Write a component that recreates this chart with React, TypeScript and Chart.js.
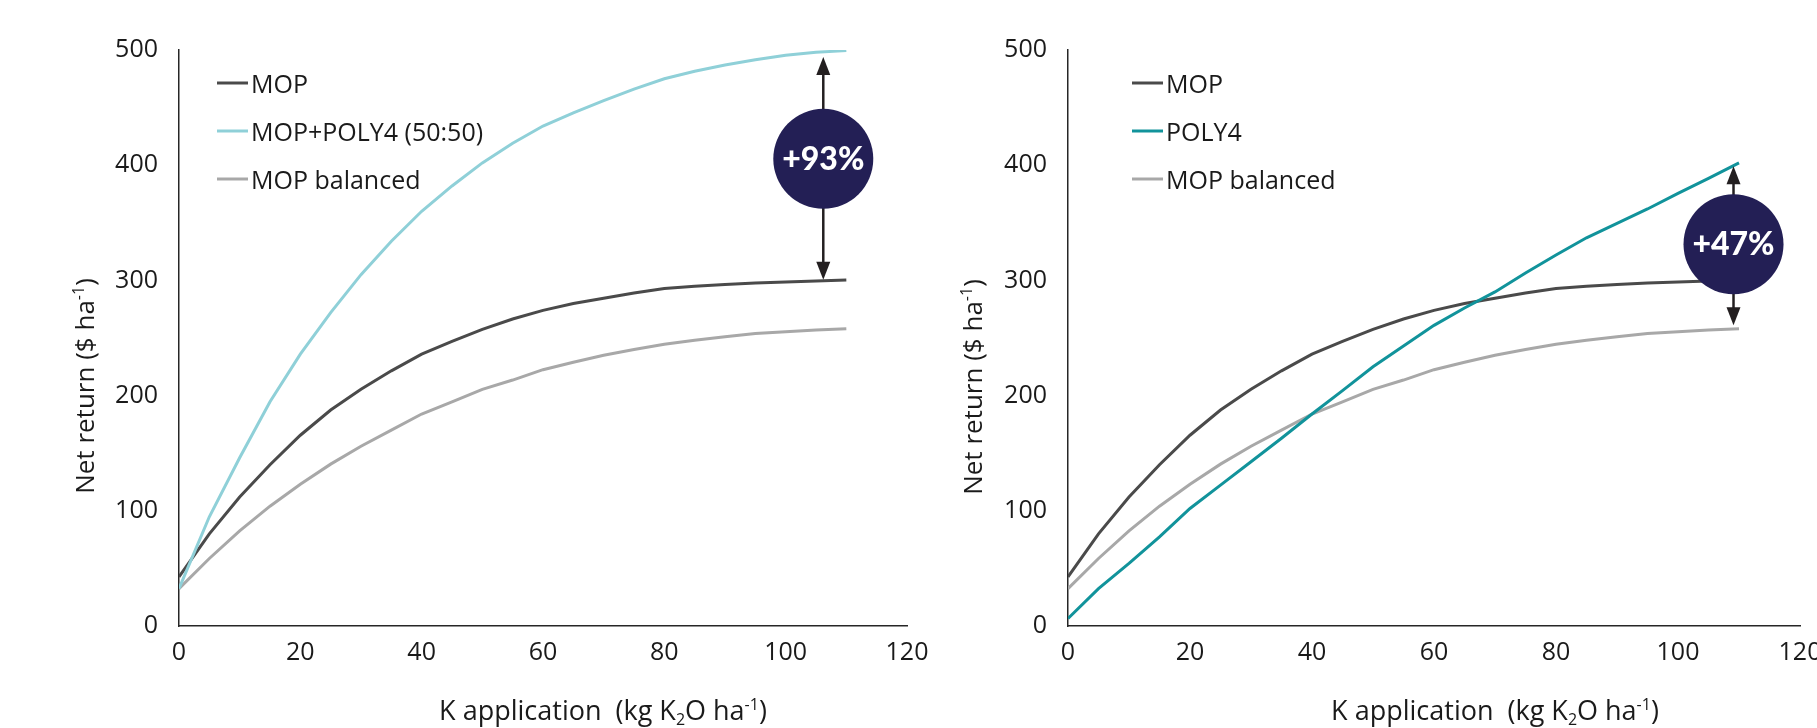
import React, { useEffect, useRef } from "react";
import { Chart, registerables } from "chart.js";

Chart.register(...registerables);

// ---------------- data ----------------
const K_RATES = [0, 5, 10, 15, 20, 25, 30, 35, 40, 45, 50, 55, 60, 65, 70, 75, 80, 85, 90, 95, 100, 105, 110];
const MOP = [42.6, 80, 112, 140, 165.6, 187.5, 205.5, 221.5, 236, 247, 257.5, 266.5, 274, 280, 284.5, 289, 293, 295, 296.5, 297.7, 298.7, 299.5, 300.4];
const MOP_POLY4 = [32.5, 94.8, 146, 194.7, 236, 272, 305, 334, 360, 382, 402, 419, 434, 445.5, 456, 466, 475, 481.5, 487, 491.5, 495.5, 498, 499.5];
const MOP_BALANCED = [32.5, 58.6, 82.5, 104, 123, 140.5, 156, 170, 184, 194.5, 205.4, 213.5, 222.5, 229, 235, 240, 244.5, 248, 251, 254, 255.5, 257, 258];
const POLY4 = [6.5, 32.5, 54.3, 77.4, 102, 122.3, 142.6, 163, 184, 204.3, 225, 243, 261, 276, 290, 306.5, 322, 337, 349.5, 362, 375.5, 388.5, 402];

const X_MIN = 0;
const X_MAX = 120;
const X_STEP = 20;
const Y_MIN = 0;
const Y_MAX = 500;
const Y_STEP = 100;

const LEFT_LABELS = ["MOP", "MOP+POLY4 (50:50)", "MOP balanced"];
const RIGHT_LABELS = ["MOP", "POLY4", "MOP balanced"];

// badge: label, x position (kg/ha), arrow top, arrow bottom, circle centre (value)
const LEFT_BADGE = { label: "+93%", x: 106.2, top: 494, bottom: 300.5, center: 405.5 };
const RIGHT_BADGE = { label: "+47%", x: 109.1, top: 399, bottom: 261, center: 331.4 };

// ---------------- styles ----------------
const W = 1817;
const H = 728;
const FONT = "'Open Sans', sans-serif";
const TEXT = "#1a1a1a";
const AXIS = "#262626";
const C_MOP = "#4a4a4a";
const C_BLEND = "#8fd0d8";
const C_BAL = "#a8a8a8";
const C_POLY = "#11939b";
const C_BADGE = "#231f55";
const C_ARROW = "#231f20";

type Part = { t: string; k?: "sup" | "sub" };

function drawParts(ctx: CanvasRenderingContext2D, parts: Part[], size: number) {
  ctx.textAlign = "left";
  ctx.textBaseline = "alphabetic";
  ctx.fillStyle = TEXT;
  const fonts = parts.map((p) => `${p.k ? Math.round(size * 0.6) : size}px ${FONT}`);
  const widths = parts.map((p, i) => {
    ctx.font = fonts[i];
    return ctx.measureText(p.t).width;
  });
  const total = widths.reduce((a, b) => a + b, 0);
  let x = -total / 2;
  parts.forEach((p, i) => {
    ctx.font = fonts[i];
    const dy = p.k === "sup" ? -size * 0.38 : p.k === "sub" ? size * 0.17 : 0;
    ctx.fillText(p.t, x, dy);
    x += widths[i];
  });
}

const Y_TITLE: Part[] = [{ t: "Net return ($ ha" }, { t: "-1", k: "sup" }, { t: ")" }];
const X_TITLE: Part[] = [
  { t: "K application  (kg K" },
  { t: "2", k: "sub" },
  { t: "O ha" },
  { t: "-1", k: "sup" },
  { t: ")" },
];

type Side = {
  labels: string[];
  colors: string[];
  series: number[][];
  order: number[];
  badge: typeof LEFT_BADGE;
  padLeft: number;
  axisWidth: number;
  padRight: number;
  yTitleX: number;
  yTitleY: number;
  xTitleX: number;
  legendLineX: number;
  legendTextX: number;
};

const LEFT_SIDE: Side = {
  labels: LEFT_LABELS,
  colors: [C_MOP, C_BLEND, C_BAL],
  series: [MOP, MOP_POLY4, MOP_BALANCED],
  order: [2, 1, 3],
  badge: LEFT_BADGE,
  padLeft: 0,
  axisWidth: 179,
  padRight: W - 907,
  yTitleX: 94,
  yTitleY: 386,
  xTitleX: 603,
  legendLineX: 217,
  legendTextX: 251,
};

const RIGHT_SIDE: Side = {
  labels: RIGHT_LABELS,
  colors: [C_MOP, C_POLY, C_BAL],
  series: [MOP, POLY4, MOP_BALANCED],
  order: [2, 1, 3],
  badge: RIGHT_BADGE,
  padLeft: 968,
  axisWidth: 100,
  padRight: W - 1800,
  yTitleX: 982,
  yTitleY: 387,
  xTitleX: 1495,
  legendLineX: 1132,
  legendTextX: 1166,
};

function makeOverlay(side: Side) {
  return {
    id: "overlay",
    afterDatasetsDraw(chart: any) {
      const ctx: CanvasRenderingContext2D = chart.ctx;
      const xs = chart.scales.x;
      const ys = chart.scales.y;
      const b = side.badge;
      const px = xs.getPixelForValue(b.x);
      const top = ys.getPixelForValue(b.top);
      const bot = ys.getPixelForValue(b.bottom);
      const cy = ys.getPixelForValue(b.center);
      const hl = 18;
      const hw = 7;
      ctx.save();
      ctx.strokeStyle = C_ARROW;
      ctx.fillStyle = C_ARROW;
      ctx.lineWidth = 2.5;
      ctx.beginPath();
      ctx.moveTo(px, top + hl - 2);
      ctx.lineTo(px, bot - hl + 2);
      ctx.stroke();
      ctx.beginPath();
      ctx.moveTo(px, top);
      ctx.lineTo(px - hw, top + hl);
      ctx.lineTo(px + hw, top + hl);
      ctx.closePath();
      ctx.fill();
      ctx.beginPath();
      ctx.moveTo(px, bot);
      ctx.lineTo(px - hw, bot - hl);
      ctx.lineTo(px + hw, bot - hl);
      ctx.closePath();
      ctx.fill();
      ctx.fillStyle = C_BADGE;
      ctx.beginPath();
      ctx.arc(px, cy, 50, 0, Math.PI * 2);
      ctx.fill();
      ctx.fillStyle = "#ffffff";
      ctx.font = `900 32px Lato, ${FONT}`;
      ctx.textAlign = "center";
      ctx.textBaseline = "alphabetic";
      ctx.fillText(b.label, px, cy + 11);
      ctx.restore();
    },
    afterDraw(chart: any) {
      const ctx: CanvasRenderingContext2D = chart.ctx;
      ctx.save();
      // legend
      const baselines = [93, 141, 189];
      side.labels.forEach((lab, i) => {
        const yb = baselines[i];
        ctx.strokeStyle = side.colors[i];
        ctx.lineWidth = 3;
        ctx.beginPath();
        ctx.moveTo(side.legendLineX, yb - 10);
        ctx.lineTo(side.legendLineX + 31, yb - 10);
        ctx.stroke();
        ctx.fillStyle = TEXT;
        ctx.font = `25px ${FONT}`;
        ctx.textAlign = "left";
        ctx.textBaseline = "alphabetic";
        ctx.fillText(lab, side.legendTextX, yb);
      });
      // y title
      ctx.save();
      ctx.translate(side.yTitleX, side.yTitleY);
      ctx.rotate(-Math.PI / 2);
      drawParts(ctx, Y_TITLE, 26);
      ctx.restore();
      // x title
      ctx.save();
      ctx.translate(side.xTitleX, 720);
      drawParts(ctx, X_TITLE, 27);
      ctx.restore();
      ctx.restore();
    },
  };
}

function makeConfig(side: Side): any {
  return {
    type: "line",
    data: {
      datasets: side.series.map((vals, i) => ({
        label: side.labels[i],
        data: K_RATES.map((k, j) => ({ x: k, y: vals[j] })),
        borderColor: side.colors[i],
        backgroundColor: side.colors[i],
        borderWidth: 3,
        pointRadius: 0,
        tension: 0,
        fill: false,
        order: side.order[i],
      })),
    },
    options: {
      animation: false,
      responsive: false,
      maintainAspectRatio: false,
      events: [],
      layout: { padding: { left: side.padLeft, right: side.padRight, top: 50, bottom: 0 } },
      plugins: { legend: { display: false }, tooltip: { enabled: false }, title: { display: false } },
      scales: {
        x: {
          type: "linear",
          min: X_MIN,
          max: X_MAX,
          ticks: { stepSize: X_STEP, padding: 12, color: TEXT, font: { family: FONT, size: 25 } },
          grid: { display: false, drawTicks: false },
          border: { display: true, color: AXIS, width: 1.5 },
          afterFit: (s: any) => {
            s.height = 102;
            s.paddingLeft = 0;
            s.paddingRight = 0;
          },
        },
        y: {
          type: "linear",
          min: Y_MIN,
          max: Y_MAX,
          ticks: { stepSize: Y_STEP, padding: 21, color: TEXT, font: { family: FONT, size: 25 } },
          grid: { display: false, drawTicks: false },
          border: { display: true, color: AXIS, width: 1.5 },
          afterFit: (s: any) => {
            s.width = side.axisWidth;
            s.paddingTop = 0;
            s.paddingBottom = 0;
          },
        },
      },
    },
    plugins: [makeOverlay(side)],
  };
}

export default function App() {
  const leftRef = useRef<HTMLCanvasElement | null>(null);
  const rightRef = useRef<HTMLCanvasElement | null>(null);

  useEffect(() => {
    const charts: Chart[] = [];
    if (leftRef.current) charts.push(new Chart(leftRef.current, makeConfig(LEFT_SIDE)));
    if (rightRef.current) charts.push(new Chart(rightRef.current, makeConfig(RIGHT_SIDE)));
    return () => charts.forEach((c) => c.destroy());
  }, []);

  const cs: React.CSSProperties = { position: "absolute", left: 0, top: 0, width: W, height: H };
  return (
    <div style={{ position: "absolute", left: 0, top: 0, width: W, height: H, background: "#fff", overflow: "hidden" }}>
      <canvas ref={leftRef} width={W} height={H} style={cs} />
      <canvas ref={rightRef} width={W} height={H} style={cs} />
    </div>
  );
}
